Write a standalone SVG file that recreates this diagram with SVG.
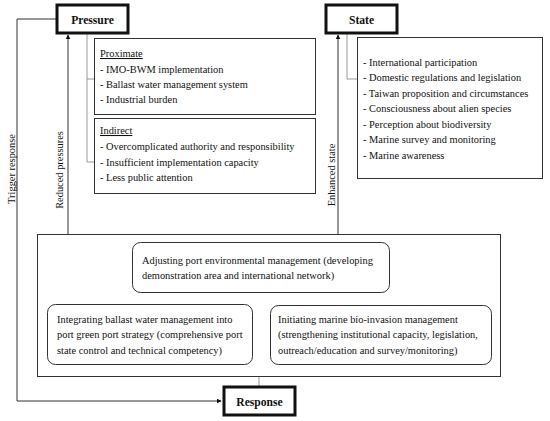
<svg xmlns="http://www.w3.org/2000/svg" width="550" height="421" viewBox="0 0 550 421">
<defs>
<style>
.t{font-size:10.4px;}
.h{font-size:11.6px;font-weight:bold;text-anchor:middle;}
.big{fill:#fff;stroke:#111;stroke-width:3;}
.box{fill:#fff;stroke:#333;stroke-width:1;}
.ln{fill:none;stroke:#333;stroke-width:1;}
.gr{fill:none;stroke:#999;stroke-width:1;}
</style>
<marker id="ah" viewBox="0 0 8 8" refX="7" refY="4" markerWidth="5" markerHeight="5" orient="auto">
<path d="M0,0 L8,4 L0,8 z" fill="#111"/>
</marker>
</defs>
<rect width="550" height="421" fill="#fff"/>
<g font-family="'Liberation Serif', 'Times New Roman', 'DejaVu Serif', serif" fill="#111">
<g id="connectors">
<polyline class="ln" points="57,19 17,19 17,401 221,401" marker-end="url(#ah)"/>
<line class="ln" x1="68" y1="234" x2="68" y2="35" marker-end="url(#ah)"/>
<line class="ln" x1="338" y1="234" x2="338" y2="35" marker-end="url(#ah)"/>
<line class="gr" x1="259" y1="376" x2="259" y2="386"/>
<polyline class="gr" points="87,33 87,162 94,162"/>
<line class="gr" x1="87" y1="79" x2="94" y2="79"/>
<polyline class="gr" points="347,33 347,79 357,79"/>
<line class="ln" x1="148" y1="304" x2="257" y2="292" marker-end="url(#ah)"/>
<line class="ln" x1="257" y1="292" x2="377" y2="304" marker-end="url(#ah)"/>
<text class="t" transform="translate(15,169) rotate(-90)" text-anchor="middle">Trigger response</text>
<text class="t" transform="translate(63,170) rotate(-90)" text-anchor="middle">Reduced pressures</text>
<text class="t" transform="translate(335,175) rotate(-90)" text-anchor="middle">Enhanced state</text>
</g>
<g id="pressure">
<rect class="big" x="57" y="5" width="71" height="28"/>
<text class="h" x="92.5" y="23.5">Pressure</text>
</g>
<g id="state">
<rect class="big" x="326" y="5" width="71" height="28"/>
<text class="h" x="361.5" y="23.5">State</text>
</g>
<g id="response">
<rect class="big" x="224" y="387" width="71" height="28"/>
<text class="h" x="259.5" y="405.5">Response</text>
</g>
<g id="proximate">
<rect class="box" x="94.5" y="38.5" width="221" height="76"/>
<text class="t" x="100" y="57" text-decoration="underline">Proximate</text>
<text class="t" x="100" y="73">- IMO-BWM implementation</text>
<text class="t" x="100" y="88">- Ballast water management system</text>
<text class="t" x="100" y="103">- Industrial burden</text>
</g>
<g id="indirect">
<rect class="box" x="94.5" y="118.5" width="221" height="75"/>
<text class="t" x="100" y="134" text-decoration="underline">Indirect</text>
<text class="t" x="100" y="150">- Overcomplicated authority and responsibility</text>
<text class="t" x="100" y="166">- Insufficient implementation capacity</text>
<text class="t" x="100" y="181">- Less public attention</text>
</g>
<g id="state-list">
<rect class="box" x="357.5" y="37.5" width="185" height="141"/>
<text class="t" x="363" y="65.5">- International participation</text>
<text class="t" x="363" y="81">- Domestic regulations and legislation</text>
<text class="t" x="363" y="96.5">- Taiwan proposition and circumstances</text>
<text class="t" x="363" y="112">- Consciousness about alien species</text>
<text class="t" x="363" y="127.5">- Perception about biodiversity</text>
<text class="t" x="363" y="143">- Marine survey and monitoring</text>
<text class="t" x="363" y="158.5">- Marine awareness</text>
</g>
<g id="response-frame">
<rect class="box" x="37.5" y="234.5" width="463" height="142"/>
</g>
<g id="adjusting">
<rect class="box" x="132.5" y="242.5" width="257" height="50" rx="8"/>
<text class="t" x="142" y="263.5">Adjusting port environmental management (developing</text>
<text class="t" x="142" y="278.5">demonstration area and international network)</text>
</g>
<g id="integrating">
<rect class="box" x="47.5" y="304.5" width="205" height="60" rx="8"/>
<text class="t" x="57" y="322.5">Integrating ballast water management into</text>
<text class="t" x="57" y="338">port green port strategy (comprehensive port</text>
<text class="t" x="57" y="353.5">state control and technical competency)</text>
</g>
<g id="initiating">
<rect class="box" x="270.5" y="305.5" width="221" height="59" rx="8"/>
<text class="t" x="278" y="322.5">Initiating marine bio-invasion management</text>
<text class="t" x="278" y="338">(strengthening institutional capacity, legislation,</text>
<text class="t" x="278" y="353.5">outreach/education and survey/monitoring)</text>
</g>
</g>
</svg>
